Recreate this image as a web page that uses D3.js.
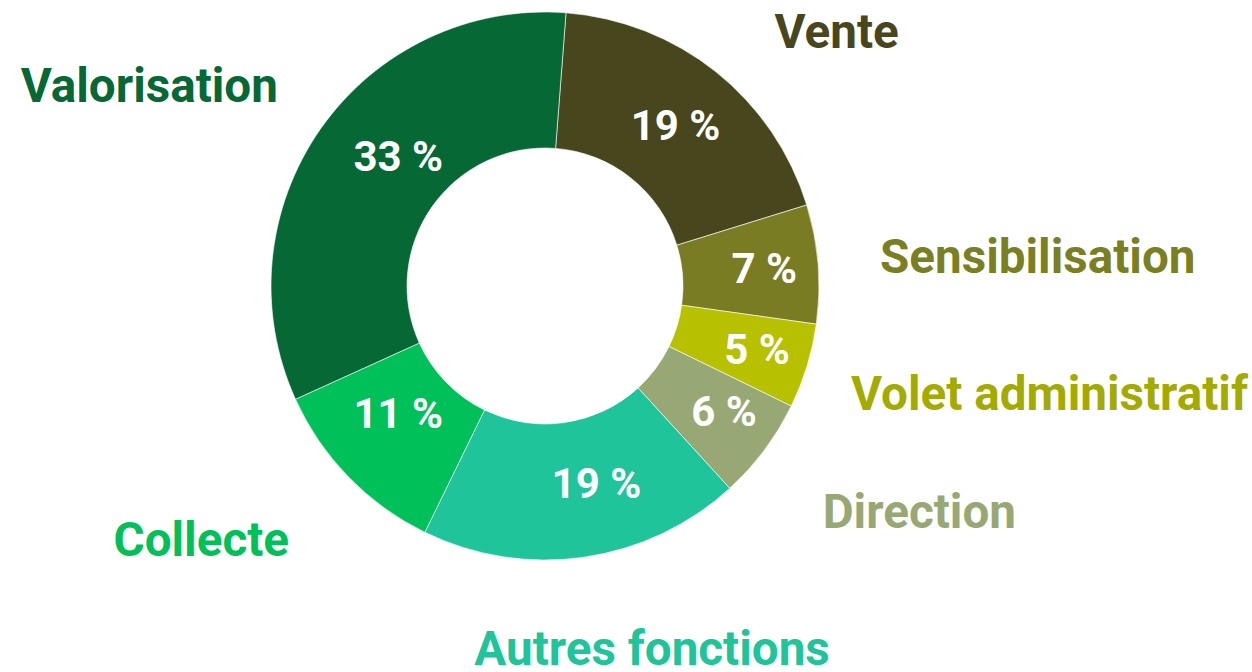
<!DOCTYPE html>
<html>
<head>
<meta charset="utf-8">
<script src="https://cdn.jsdelivr.net/npm/d3@7"></script>
<style>
  html, body { margin: 0; padding: 0; background: #fff; }
  svg { display: block; font-family: Roboto, "Noto Sans", sans-serif; }
</style>
</head>
<body>
<div id="chart"></div>
<script>
// clockwise from the top, values in %
const categories = ["Vente", "Sensibilisation", "Volet administratif", "Direction", "Autres fonctions", "Collecte", "Valorisation"];
const shares = [19, 7, 5, 6, 19, 11, 33];
const sliceColors = ["#48461d", "#7a7c24", "#b8c100", "#98a874", "#20c49b", "#00c05a", "#066835"];
const labelColors = ["#48461d", "#7a7f22", "#a3ab00", "#98a874", "#20c49b", "#00c05a", "#066835"];

const width = 1252,
  height = 672,
  cx = 545,
  cy = 286,
  outerR = 274,
  innerR = 138,
  startDeg = 4.4;

// small hand tweaks to sit the labels where the original has them
const pctNudge = {
  "Vente": [2, 0],
  "Sensibilisation": [14, -1],
  "Volet administratif": [15, 3],
  "Direction": [14, 2],
  "Autres fonctions": [22, -7],
  "Collecte": [1, -17],
  "Valorisation": [22, -12],
};
const nameNudge = {
  "Vente": [42, 75],
  "Sensibilisation": [94, 19],
  "Volet administratif": [122, 7],
  "Direction": [54, 2],
  "Autres fonctions": [50, -17],
  "Collecte": [-57, -9],
  "Valorisation": [-68, 45],
};

const data = categories.map((c, i) => ({ name: c, value: shares[i], color: sliceColors[i], labelColor: labelColors[i] }));

const svg = d3
  .select("#chart")
  .append("svg")
  .attr("width", width)
  .attr("height", height);

const g = svg.append("g").attr("transform", `translate(${cx},${cy})`);

const start = (startDeg * Math.PI) / 180;
const pie = d3
  .pie()
  .value((d) => d.value)
  .sort(null)
  .startAngle(start)
  .endAngle(start + 2 * Math.PI);

const arcs = pie(data);
const arc = d3.arc().innerRadius(innerR).outerRadius(outerR);

g.selectAll(".slice")
  .data(arcs)
  .join("path")
  .attr("class", "slice")
  .attr("d", arc)
  .attr("fill", (d) => d.data.color)
  .attr("stroke", "#fff")
  .attr("stroke-width", 0.6);

const mid = (d) => (d.startAngle + d.endAngle) / 2;
const pctSize = 42;

g.selectAll(".pct")
  .data(arcs)
  .join("text")
  .attr("class", "pct")
  .attr("transform", (d) => {
    const p = d3.pointRadial(mid(d), 206);
    const n = pctNudge[d.data.name];
    return `translate(${p[0] + n[0]},${p[1] + n[1] + pctSize * 0.355})`;
  })
  .attr("text-anchor", "middle")
  .attr("fill", "#fff")
  .attr("font-weight", 700)
  .attr("font-size", pctSize)
  .text((d) => `${d.data.value} %`);

g.selectAll(".name")
  .data(arcs)
  .join("text")
  .attr("class", "name")
  .attr("transform", (d) => {
    const p = d3.pointRadial(mid(d), 400);
    const n = nameNudge[d.data.name];
    return `translate(${p[0] + n[0]},${p[1] + n[1]})`;
  })
  .attr("text-anchor", "middle")
  .attr("fill", (d) => d.data.labelColor)
  .attr("font-weight", 700)
  .attr("font-size", 47.6)
  .text((d) => d.data.name);
</script>
</body>
</html>
